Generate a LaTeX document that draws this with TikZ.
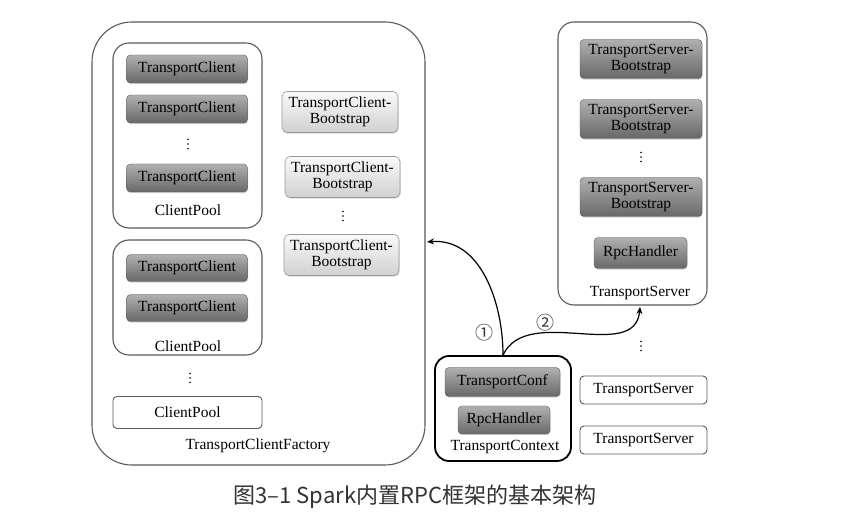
\documentclass[tikz,border=0pt]{standalone}
\usepackage{fontspec}
\setmainfont{Liberation Serif}
\newfontfamily\cjk{Noto Sans CJK SC}
\usetikzlibrary{arrows.meta,shadows}
\definecolor{darktop}{HTML}{B0B0B0}
\definecolor{darkbot}{HTML}{686868}
\definecolor{lighttop}{HTML}{FAFAFA}
\definecolor{lightbot}{HTML}{D0D0D0}
\definecolor{frame}{HTML}{5A5A5A}
\definecolor{captxt}{HTML}{333333}
\tikzset{
  txt/.style={font=\fontsize{15.5}{16}\selectfont},
  darkbox/.style={txt, rounded corners=4pt, draw=gray!70!black, line width=0.4pt,
    top color=darktop, bottom color=darkbot, inner sep=0pt, align=center,
    drop shadow={shadow xshift=0.6pt, shadow yshift=-1.2pt, opacity=0.35}},
  lightbox/.style={txt, rounded corners=5pt, draw=gray!80, line width=0.6pt,
    top color=lighttop, bottom color=lightbot, inner sep=0pt, align=center,
    drop shadow={shadow xshift=0.6pt, shadow yshift=-1.2pt, opacity=0.3}},
  plainbox/.style={txt, rounded corners=4pt, draw=frame, line width=0.9pt, fill=white,
    inner sep=0pt},
  container/.style={draw=frame, line width=1.1pt, inner sep=0pt},
  lbl/.style={txt, inner sep=0pt},
  vdotsn/.style={inner sep=0pt, minimum size=12pt,
    path picture={\foreach \dy in {-4.5,0,4.5}
      \fill (path picture bounding box.center) ++(0,\dy) circle (0.9pt);}},
  conn/.style={line width=1.2pt, -{Stealth[length=7pt,width=6pt]}},
  num/.style={font=\cjk\fontsize{18}{18}\selectfont, inner sep=0pt, text=black!80},
}
\begin{document}
\begin{tikzpicture}[x=1pt,y=-1pt]
\useasboundingbox (0,0) rectangle (841,526);
\fill[white] (0,0) rectangle (841,526);

% factory container
\node[container, rounded corners=40pt, minimum width=333pt, minimum height=443pt] (factory) at (258.5,243.5) {};
\node[lbl] (factorylbl) at (258,446) {TransportClientFactory};

% client pool 1
\node[container, rounded corners=16pt, minimum width=149pt, minimum height=185pt] (pool1) at (187.5,135.5) {};
\node[darkbox, minimum width=121pt, minimum height=28pt] (tc1) at (187,69) {TransportClient};
\node[darkbox, minimum width=121pt, minimum height=28pt] (tc2) at (187,109) {TransportClient};
\node[vdotsn] (d1) at (188,144) {};
\node[darkbox, minimum width=121pt, minimum height=28pt] (tc3) at (187,178) {TransportClient};
\node[lbl] (pool1lbl) at (188,210) {ClientPool};

% client pool 2
\node[container, rounded corners=16pt, minimum width=149pt, minimum height=115pt] (pool2) at (187.5,297.5) {};
\node[darkbox, minimum width=121pt, minimum height=27pt] (tc4) at (187,268) {TransportClient};
\node[darkbox, minimum width=121pt, minimum height=27pt] (tc5) at (187,308) {TransportClient};
\node[lbl] (pool2lbl) at (188,346) {ClientPool};

\node[vdotsn] (d2) at (190,378) {};

% client pool 3
\node[plainbox, minimum width=149pt, minimum height=32pt] (pool3) at (187.5,412.5) {ClientPool};

% bootstraps
\node[lightbox, minimum width=116pt, minimum height=41pt] (cb1) at (340,112) {TransportClient-\\Bootstrap};
\node[lightbox, minimum width=115pt, minimum height=41pt] (cb2) at (342.5,177) {TransportClient-\\Bootstrap};
\node[vdotsn] (d3) at (343,216) {};
\node[lightbox, minimum width=115pt, minimum height=41pt] (cb3) at (341.5,255) {TransportClient-\\Bootstrap};

% server container
\node[container, rounded corners=16pt, minimum width=149pt, minimum height=283pt] (server) at (632.5,163.5) {};
\node[darkbox, minimum width=122pt, minimum height=39pt] (sb1) at (641,59) {TransportServer-\\Bootstrap};
\node[darkbox, minimum width=122pt, minimum height=39pt] (sb2) at (641,119) {TransportServer-\\Bootstrap};
\node[vdotsn] (d4) at (641,157) {};
\node[darkbox, minimum width=122pt, minimum height=39pt] (sb3) at (641,197) {TransportServer-\\Bootstrap};
\node[darkbox, minimum width=93pt, minimum height=31pt] (srh) at (640.5,253) {RpcHandler};
\node[lbl] (serverlbl) at (640,293) {TransportServer};

\node[vdotsn] (d5) at (641,346) {};
\node[plainbox, minimum width=127pt, minimum height=28pt] (ts2) at (643.5,390) {TransportServer};
\node[plainbox, minimum width=127pt, minimum height=28pt] (ts3) at (643.5,440) {TransportServer};

% transport context
\node[container, draw=black, line width=1.8pt, rounded corners=14pt, minimum width=136pt, minimum height=105pt] (ctx) at (503,408.5) {};
\node[darkbox, minimum width=115pt, minimum height=29pt] (conf) at (502.5,382) {TransportConf};
\node[darkbox, minimum width=92pt, minimum height=28pt] (crh) at (504,420) {RpcHandler};
\node[lbl] (ctxlbl) at (505,447) {TransportContext};

% connectors
\coordinate (t1) at (427,242);
\coordinate (t2) at (640,307);
\draw[conn] (ctx.north) to[out=90, in=5] (t1);
\draw[conn] (ctx.north) to[out=65, in=-95] (t2);
\node[num] (n1) at (484,333) {①};
\node[num] (n2) at (545,323) {②};

% caption
\node[font=\cjk\fontsize{22}{24}\selectfont, text=captxt, inner sep=0pt] (cap) at (415,497) {图3–1 Spark内置RPC框架的基本架构};
\end{tikzpicture}
\end{document}
